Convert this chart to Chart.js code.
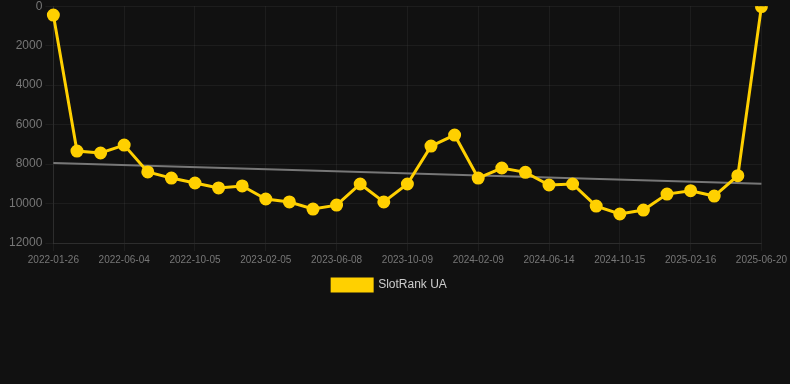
<!DOCTYPE html>
<html>
<head>
<meta charset="utf-8">
<script src="https://cdn.jsdelivr.net/npm/chart.js@4"></script>
<style>
  html, body { margin: 0; padding: 0; background: #111111; overflow: hidden; }
  #wrap { width: 790px; height: 305px; margin-top: -4px; }
</style>
</head>
<body>
<div id="wrap"><canvas id="rank"></canvas></div>
<script>
// dates of each sample (every 3rd one shows on the axis)
var dates = [
  '2022-01-26', '2022-03-10', '2022-04-22', '2022-06-04', '2022-07-15', '2022-08-25',
  '2022-10-05', '2022-11-15', '2022-12-26', '2023-02-05', '2023-03-18', '2023-04-28',
  '2023-06-08', '2023-07-19', '2023-08-29', '2023-10-09', '2023-11-19', '2023-12-30',
  '2024-02-09', '2024-03-21', '2024-05-03', '2024-06-14', '2024-07-25', '2024-09-04',
  '2024-10-15', '2024-11-25', '2025-01-05', '2025-02-16', '2025-03-30', '2025-05-10',
  '2025-06-20'
];
// rank values
var rankUA = [
  450, 7340, 7440, 7040, 8400, 8710, 8960, 9210, 9110, 9770, 9920,
  10280, 10080, 9010, 9920, 9010, 7090, 6530, 8710, 8200, 8420,
  9060, 9010, 10130, 10530, 10330, 9520, 9350, 9620, 8590, 20
];
// trend line end points
var trendStart = 7950;
var trendEnd = 9000;

var trend = dates.map(function(d, i) {
  if (i === 0) return trendStart;
  if (i === dates.length - 1) return trendEnd;
  return null;
});

Chart.defaults.font.family = 'Arial, "Liberation Sans", sans-serif';
Chart.defaults.color = '#777';

var chart = new Chart('rank', {
  type: 'line',
  data: {
    labels: dates,
    datasets: [
      {
        label: 'SlotRank UA',
        data: rankUA,
        borderColor: '#ffd000',
        backgroundColor: '#ffd000',
        borderWidth: 3,
        pointRadius: 5,
        pointHoverRadius: 5,
        tension: 0
      },
      {
        label: 'trend',
        data: trend,
        spanGaps: true,
        borderColor: '#777',
        borderWidth: 2,
        pointRadius: 0,
        tension: 0
      }
    ]
  },
  options: {
    responsive: true,
    maintainAspectRatio: false,
    animation: false,
    layout: { padding: { left: 6, right: 17 } },
    scales: {
      x: {
        grid: { color: 'rgba(255,255,255,0.05)' },
        border: { color: 'rgba(255,255,255,0.08)' },
        ticks: {
          font: { size: 10 },
          color: '#777',
          autoSkip: true,
          maxTicksLimit: 11,
          maxRotation: 0
        }
      },
      y: {
        reverse: true,
        min: 0,
        max: 12000,
        grid: { color: 'rgba(255,255,255,0.05)' },
        border: { color: 'rgba(255,255,255,0.08)' },
        ticks: {
          stepSize: 2000,
          font: { size: 12 },
          color: '#777',
          callback: function(v) { return String(v); }
        }
      }
    },
    plugins: {
      legend: {
        position: 'bottom',
        labels: {
          color: '#ccc',
          font: { size: 12 },
          boxWidth: 40,
          boxHeight: 12,
          filter: function(item) { return item.text === 'SlotRank UA'; }
        }
      },
      tooltip: { enabled: false }
    }
  }
});
</script>
</body>
</html>
